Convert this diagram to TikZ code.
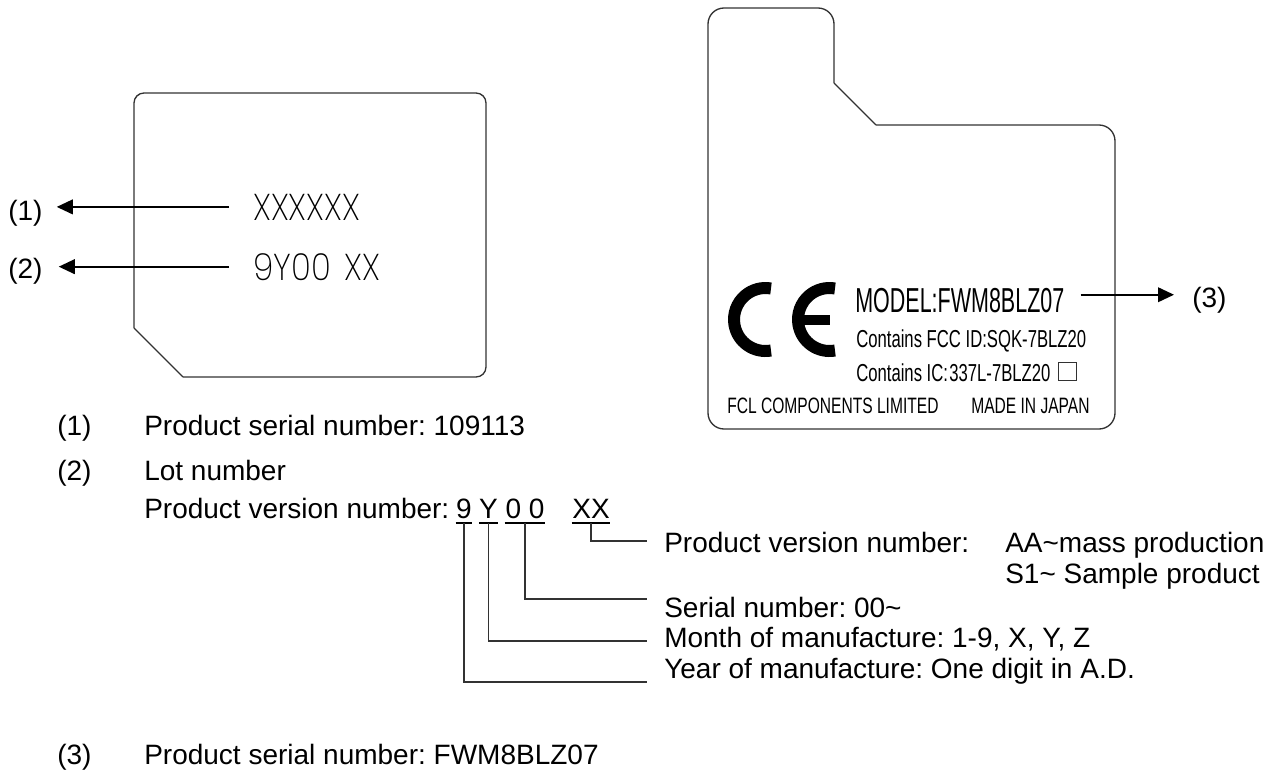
\documentclass[tikz,border=0pt]{standalone}
\usepackage{fontspec}
\setmainfont{Liberation Sans}
\usetikzlibrary{arrows.meta, positioning}
\newfontfamily\modelfont[FakeStretch=.62]{Liberation Sans}
\newfontfamily\fccfont[FakeStretch=.68]{Liberation Sans}
\newfontfamily\makerfont[FakeStretch=.70]{Liberation Sans}
\newfontfamily\stampfont[FakeStretch=.88]{Poppins ExtraLight}
\definecolor{line1}{RGB}{50, 50, 50}
\frenchspacing

\begin{document}
\begin{tikzpicture}[
    x=.75pt, y=-.75pt,
    plate/.style={line1, line width=1pt},
    txt/.style={anchor=base west, inner sep=0pt, font=\fontsize{21}{24}\selectfont},
    stamp/.style={anchor=base west, inner sep=0pt, font=\stampfont\fontsize{28}{30}\selectfont},
    digit/.style={anchor=base, inner sep=0pt, text depth=3.4pt, font=\fontsize{21}{24}\selectfont},
    arr/.style={-{Triangle[length=12pt, width=11pt]}, line width=1.25pt},
    leader/.style={line1, line width=.9pt},
    under/.style={line width=1.1pt},
    cearc/.style={line width=9pt},
  ]
  \useasboundingbox (0,0) rectangle (1280,771);

  % Left label
  \draw[plate, rounded corners=7.5pt] (134,328) -- (134,93) -- (486,93) -- (486,377) -- (183,377);
  \draw[plate] (183,377) -- (134,328);
  \node[stamp] (serial) at (253,220) {XXXXXX};
  \node[stamp] (lot) at (253,280) {9Y00\kern3pt{} XX};
  \node[txt] (tag1) at (8,220) {(1)};
  \node[txt] (tag2) at (8,278) {(2)};

  % Right label
  \draw[plate, rounded corners=12pt] (876,125) -- (1115,125) -- (1115,429) -- (708,429) -- (708,8) -- (834,8) -- (834,83);
  \draw[plate] (834,83) -- (876,125);
  \coordinate (ce1) at (765.5,319.5);
  \coordinate (ce2) at (829.5,319.5);
  \draw[cearc] (ce1) ++(80:31.5) arc[start angle=80, end angle=280, radius=31.5];
  \draw[cearc] (ce2) ++(80:31.5) arc[start angle=80, end angle=280, radius=31.5];
  \draw[line width=7.5pt] (ce2) ++(-31,0) -- (ce2);
  \node[txt, font=\modelfont\fontsize{26}{28}\selectfont] (model) at (855,312) {MODEL:FWM8BLZ07};
  \node[txt, font=\fccfont\fontsize{18.4}{20}\selectfont] (fcc) at (856,347) {Contains FCC ID:SQK-7BLZ20};
  \node[txt, font=\fccfont\fontsize{18.4}{20}\selectfont] (ic) at (856,381) {Contains IC:\kern1pt 337L-7BLZ20};
  \node[draw=line1, line width=.6pt, minimum size=14pt, inner sep=0pt] (mark) at (1067.5,371.5) {};
  \node[txt, font=\makerfont\fontsize{16.7}{18}\selectfont] (maker) at (727,413) {FCL COMPONENTS LIMITED};
  \node[txt, font=\makerfont\fontsize{16.7}{18}\selectfont] (japan) at (971,413) {MADE IN JAPAN};
  \node[txt] (tag3) at (1192,307) {(3)};

  % Arrows
  \draw[arr, shorten <=18pt, shorten >=10.5pt] (serial.west) -- (serial.west -| tag1.east);
  \draw[arr, shorten <=18pt, shorten >=12pt] (lot.west) -- (lot.west -| tag2.east);
  \draw[arr, shorten <=12pt, shorten >=13.5pt] ([yshift=4pt]model.east) -- ([yshift=4pt]model.east -| tag3.west);

  % Notes
  \node[txt] (n1) at (57,435) {(1)};
  \node[txt] (t1) at (144,435) {Product serial number: 109113};
  \node[txt] (n2) at (57,480) {(2)};
  \node[txt] (t2) at (144,480) {Lot number};
  \node[txt] (t2b) at (144,518) {Product version number:};
  \node[txt] (n3) at (57,764) {(3)};
  \node[txt] (t3) at (144,764) {Product serial number: FWM8BLZ07};

  % Code digits
  \node[digit, minimum width=12pt] (dyear) at (464,518) {9};
  \node[digit, minimum width=14pt] (dmonth) at (488.5,518) {Y};
  \node[digit, minimum width=30pt] (dserial) at (525,518) {0 0};
  \node[digit, minimum width=28.5pt] (dver) at (591,518) {XX};
  \foreach \d in {dyear, dmonth, dserial, dver}
    \draw[under] (\d.south west) -- (\d.south east);

  % Descriptions
  \node[txt] (verlbl) at (664,552) {Product version number:};
  \node[txt] (aalbl) at (1005,552) {AA\textasciitilde mass production};
  \node[txt] (s1lbl) at (1005,583) {S1\textasciitilde{} Sample product};
  \node[txt] (serlbl) at (664,617) {Serial number: 00\textasciitilde};
  \node[txt] (monlbl) at (664,647) {Month of manufacture: 1-9, X, Y, Z};
  \node[txt] (yearlbl) at (664,678) {Year of manufacture: One digit in A.D.};

  % Leaders
  \coordinate (verend) at (647,541);
  \coordinate (serend) at (647,599);
  \coordinate (monend) at (647,641);
  \coordinate (yearend) at (647,682);
  \draw[leader] (dver.south) |- (verend);
  \draw[leader] (dserial.south) |- (serend);
  \draw[leader] (dmonth.south) |- (monend);
  \draw[leader] (dyear.south) |- (yearend);

\end{tikzpicture}
\end{document}
